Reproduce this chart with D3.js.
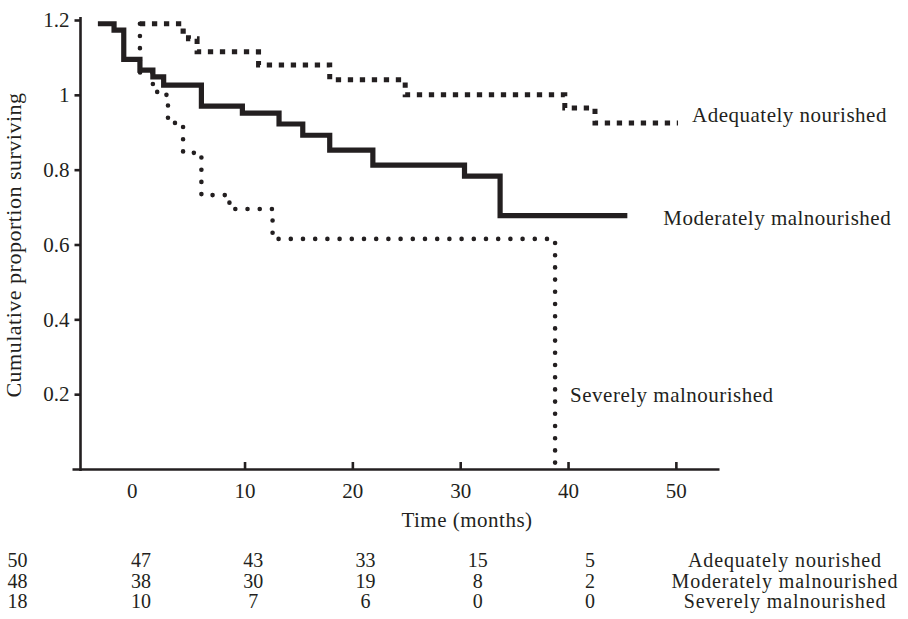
<!DOCTYPE html>
<html>

<head>
    <meta charset="utf-8">
    <style>
        body {
            margin: 0;
            background: #fff;
        }

        svg {
            display: block;
            font-family: 'Liberation Serif', 'Times New Roman', serif;
        }

        .axis text {
            font-size: 21px;
            fill: #231f20;
            font-family: 'Liberation Serif', 'Times New Roman', serif;
        }

        .axis path,
        .axis line {
            stroke: #231f20;
            stroke-width: 2.6px;
        }

        .label {
            font-size: 21px;
            fill: #231f20;
            letter-spacing: 0.5px;
        }

        .risk text {
            font-size: 20px;
        }
    </style>
</head>

<body>
    <svg width="908" height="619"></svg>
</body>

<script src="https://d3js.org/d3.v7.min.js"></script>

<script>
    // survival curves (time in months, cumulative proportion)
    let adequateTime = [0.3, 4.3, 4.8, 5.6, 11.3, 17.9, 24.9, 39.7, 42.5, 50.2]
    let adequateSurv = [1.19, 1.17, 1.15, 1.115, 1.08, 1.04, 1.0, 0.965, 0.925, 0.925]

    let moderateTime = [-3.6, -2.1, -1.2, 0.3, 1.5, 2.5, 6.0, 9.8, 13.2, 15.4, 17.9, 21.9, 30.4, 33.7, 45.5]
    let moderateSurv = [1.19, 1.173, 1.095, 1.066, 1.048, 1.026, 0.97, 0.951, 0.922, 0.892, 0.852, 0.812, 0.783, 0.677, 0.677]

    let severeTime = [0.3, 0.3, 1.5, 1.9, 2.9, 4.3, 6.0, 8.6, 12.6, 38.8]
    let severeSurv = [1.19, 1.06, 1.02, 1.0, 0.925, 0.845, 0.732, 0.695, 0.615, 0]

    let xTicks = [0, 10, 20, 30, 40, 50]
    let yTicks = [0.2, 0.4, 0.6, 0.8, 1, 1.2]

    // numbers at risk table
    let groupNames = ["Adequately nourished", "Moderately malnourished", "Severely malnourished"]
    let riskTimes = [-11, 0, 10, 20, 30, 40]
    let riskAdequate = [50, 47, 43, 33, 15, 5]
    let riskModerate = [48, 38, 30, 19, 8, 2]
    let riskSevere = [18, 10, 7, 6, 0, 0]

    let svg = d3.select("svg")
    let ink = "#231f20"

    let x = d3.scaleLinear()
        .domain([-6, 54])
        .range([72, 719])

    let y = d3.scaleLinear()
        .domain([0, 1.2])
        .range([469, 20])

    let zip = (ts, vs) => ts.map((t, i) => ({ t: t, v: vs[i] }))

    let series = [
        { name: groupNames[0], pts: zip(adequateTime, adequateSurv), risk: riskAdequate },
        { name: groupNames[1], pts: zip(moderateTime, moderateSurv), risk: riskModerate },
        { name: groupNames[2], pts: zip(severeTime, severeSurv), risk: riskSevere }
    ]

    // axes
    let xAxis = svg.append("g")
        .attr("class", "x axis")
        .attr("transform", `translate(0,${y(0)})`)
        .call(d3.axisBottom(x)
            .tickValues(xTicks)
            .tickSize(-7)
            .tickSizeOuter(0)
            .tickPadding(14))

    // no tick mark at zero, and its label sits a little to the left
    let zeroTick = xAxis.selectAll(".tick").filter(d => d == 0)
    zeroTick.select("line").remove()
    zeroTick.select("text").attr("dx", -5)

    let yAxis = svg.append("g")
        .attr("class", "y axis")
        .attr("transform", "translate(80.5,0)")
        .call(d3.axisLeft(y)
            .tickValues(yTicks)
            .tickFormat(d3.format("~g"))
            .tickSize(6)
            .tickSizeOuter(0)
            .tickPadding(5))

    yAxis.select(".domain").attr("d", `M0,${y(0) + 2}V${y(1.2) - 3}`)

    // curves
    let line = d3.line()
        .x(d => x(d.t))
        .y(d => y(d.v))
        .curve(d3.curveStepAfter)

    svg.append("path")
        .attr("d", line(series[2].pts))
        .style("fill", "none")
        .style("stroke", ink)
        .style("stroke-width", "4.6px")
        .style("stroke-linecap", "round")
        .style("stroke-dasharray", "0,12.2")

    svg.append("path")
        .attr("d", line(series[0].pts))
        .style("fill", "none")
        .style("stroke", ink)
        .style("stroke-width", "5px")
        .style("stroke-dasharray", "5.3,6.7")

    svg.append("path")
        .attr("d", line(series[1].pts))
        .style("fill", "none")
        .style("stroke", ink)
        .style("stroke-width", "5.2px")
        .style("stroke-linejoin", "miter")

    // curve labels
    let last = s => s.pts[s.pts.length - 1]

    svg.append("text")
        .attr("class", "label")
        .attr("x", x(last(series[0]).t) + 14)
        .attr("y", y(last(series[0]).v) - 1)
        .text(series[0].name)

    svg.append("text")
        .attr("class", "label")
        .attr("x", x(last(series[1]).t) + 36)
        .attr("y", y(last(series[1]).v) + 9)
        .text(series[1].name)

    svg.append("text")
        .attr("class", "label")
        .attr("x", x(last(series[2]).t) + 15)
        .attr("y", y(0.18))
        .text(series[2].name)

    // axis titles
    svg.append("text")
        .attr("class", "label")
        .attr("x", 467)
        .attr("y", 527)
        .attr("text-anchor", "middle")
        .text("Time (months)")

    svg.append("text")
        .attr("class", "label")
        .attr("transform", "rotate(-90)")
        .attr("x", -245)
        .attr("y", 21)
        .attr("text-anchor", "middle")
        .style("font-size", "22px")
        .text("Cumulative proportion surviving")

    // numbers at risk
    let tableX = d3.scaleLinear()
        .domain([0, 40])
        .range([141, 590])

    let rowY = d3.scalePoint()
        .domain(groupNames)
        .range([567, 608])

    let rows = svg.append("g")
        .attr("class", "risk")
        .selectAll("g")
        .data(series)
        .join("g")
        .attr("transform", d => `translate(0,${rowY(d.name)})`)

    rows.selectAll("text.n")
        .data(d => d.risk)
        .join("text")
        .attr("class", "n label")
        .attr("x", (d, i) => tableX(riskTimes[i]))
        .attr("text-anchor", "middle")
        .style("letter-spacing", "0px")
        .text(d => d)

    rows.append("text")
        .attr("class", "label")
        .attr("x", 785)
        .attr("text-anchor", "middle")
        .style("letter-spacing", "0.9px")
        .text(d => d.name)
</script>

</html>
